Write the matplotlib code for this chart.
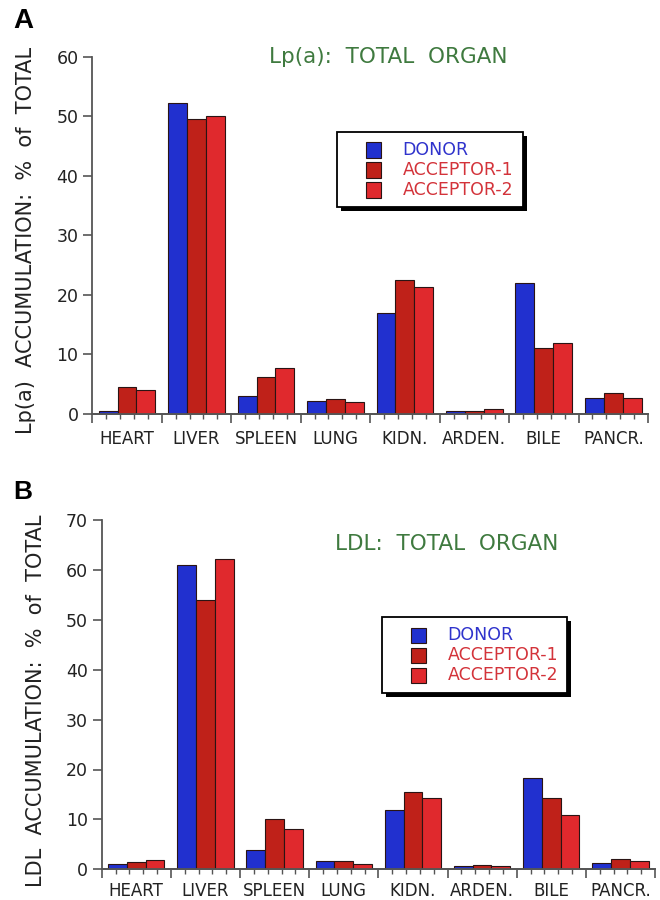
import matplotlib
matplotlib.use("Agg")
import matplotlib.pyplot as plt
from matplotlib.patches import Rectangle
from matplotlib.ticker import MultipleLocator
import numpy as np

# ---------------- data ----------------
categories = ["HEART", "LIVER", "SPLEEN", "LUNG", "KIDN.", "ARDEN.", "BILE", "PANCR."]
series_names = ["DONOR", "ACCEPTOR-1", "ACCEPTOR-2"]

lpa_donor = [0.5, 52.2, 3.0, 2.2, 16.9, 0.5, 22.1, 2.7]
lpa_acceptor1 = [4.5, 49.5, 6.2, 2.5, 22.6, 0.5, 11.1, 3.5]
lpa_acceptor2 = [4.0, 50.0, 7.7, 2.1, 21.3, 0.8, 12.0, 2.7]

ldl_donor = [1.1, 60.9, 3.8, 1.7, 11.8, 0.6, 18.3, 1.3]
ldl_acceptor1 = [1.5, 54.0, 10.1, 1.7, 15.5, 0.8, 14.3, 2.0]
ldl_acceptor2 = [1.8, 62.1, 8.0, 1.1, 14.3, 0.6, 10.9, 1.7]

lpa_yticks = [0, 10, 20, 30, 40, 50, 60]
ldl_yticks = [0, 10, 20, 30, 40, 50, 60, 70]

# ---------------- style ----------------
bar_colors = ["#2130cf", "#bf2119", "#e0292d"]
legend_text_colors = ["#2f33cc", "#d3333a", "#d3333a"]
title_color = "#3f7a3f"
axis_color = "#555555"
edge_color = "#2a1414"

W, H = 660, 900
fig = plt.figure(figsize=(W / 100, H / 100), dpi=100)
fig.patch.set_facecolor("white")


def fx(x):
    return x / W


def fy(y):
    return 1 - y / H


def panel(rect_px, series, yticks, title, title_px, ylabel, ylabel_px,
          letter, letter_px, letter_size, legend_px, xpad):
    left, top, right, bottom = rect_px
    ax = fig.add_axes([fx(left), fy(bottom), (right - left) / W, (bottom - top) / H])
    n = len(categories)
    centers = np.arange(n) + 0.5
    w = 0.272
    for k, vals in enumerate(series):
        ax.bar(centers + (k - 1) * w, vals, width=w, color=bar_colors[k],
               edgecolor=edge_color, linewidth=0.8, zorder=2)
    ax.set_xlim(0, n)
    ax.set_ylim(yticks[0], yticks[-1])
    for s in ("top", "right"):
        ax.spines[s].set_visible(False)
    for s in ("left", "bottom"):
        ax.spines[s].set_color(axis_color)
        ax.spines[s].set_linewidth(1.3)
    ax.set_yticks(yticks)
    ax.tick_params(axis="y", direction="out", length=6.5, width=1.2,
                   color=axis_color, labelsize=12.5, pad=3.5, labelcolor="#222222")
    ax.set_xticks(centers, categories)
    ax.tick_params(axis="x", length=0, labelsize=12, pad=xpad, labelcolor="#222222")

    sec = ax.secondary_xaxis("bottom")
    sec.set_xticks(np.arange(n + 1))
    sec.set_xticklabels([])
    sec.xaxis.set_minor_locator(MultipleLocator(0.2))
    sec.tick_params(which="major", direction="out", length=6.5, width=1.2, color=axis_color)
    sec.tick_params(which="minor", direction="out", length=3.6, width=1.0, color=axis_color)
    sec.spines["bottom"].set_color(axis_color)
    sec.spines["bottom"].set_linewidth(1.3)

    fig.text(fx(title_px[0]), fy(title_px[1]), title, color=title_color,
             fontsize=15.5, ha="center", va="center")
    fig.text(fx(ylabel_px[0]), fy(ylabel_px[1]), ylabel, rotation=90,
             fontsize=15, ha="center", va="center", color="#222222")
    fig.text(fx(letter_px[0]), fy(letter_px[1]), letter, fontsize=letter_size,
             fontweight="bold", family="Liberation Sans", ha="left", va="top")

    # legend box with shadow
    bl, bt, br, bb = legend_px
    sh = 4
    fig.add_artist(Rectangle((fx(bl + sh), fy(bb + sh)), (br - bl) / W, (bb - bt) / H,
                             transform=fig.transFigure, facecolor="black",
                             edgecolor="black", linewidth=0, zorder=5))
    fig.add_artist(Rectangle((fx(bl), fy(bb)), (br - bl) / W, (bb - bt) / H,
                             transform=fig.transFigure, facecolor="white",
                             edgecolor="black", linewidth=1.3, zorder=6))
    row0 = bt + 18.5
    dy = 20.0
    msz = 15
    for k, name in enumerate(series_names):
        yc = row0 + k * dy
        fig.add_artist(Rectangle((fx(bl + 28.5), fy(yc + msz / 2)), msz / W, msz / H,
                                 transform=fig.transFigure, facecolor=bar_colors[k],
                                 edgecolor=edge_color, linewidth=0.8, zorder=7))
        fig.text(fx(bl + 65.5), fy(yc), name, color=legend_text_colors[k],
                 fontsize=12.5, ha="left", va="center", zorder=7)
    return ax


panel((92.3, 57, 648, 414),
      [lpa_donor, lpa_acceptor1, lpa_acceptor2], lpa_yticks,
      "Lp(a):  TOTAL  ORGAN", (388, 57),
      "Lp(a)  ACCUMULATION:  %  of  TOTAL", (26, 240),
      "A", (13, 8), 20,
      (337, 131.5, 523, 207), 11.5)

panel((101.7, 520, 655, 869.3),
      [ldl_donor, ldl_acceptor1, ldl_acceptor2], ldl_yticks,
      "LDL:  TOTAL  ORGAN", (447, 544),
      "LDL  ACCUMULATION:  %  of  TOTAL", (36, 701),
      "B", (13, 480), 19,
      (382, 617, 567, 693), 9.5)

fig.savefig("out.png", dpi=100, facecolor="white")
